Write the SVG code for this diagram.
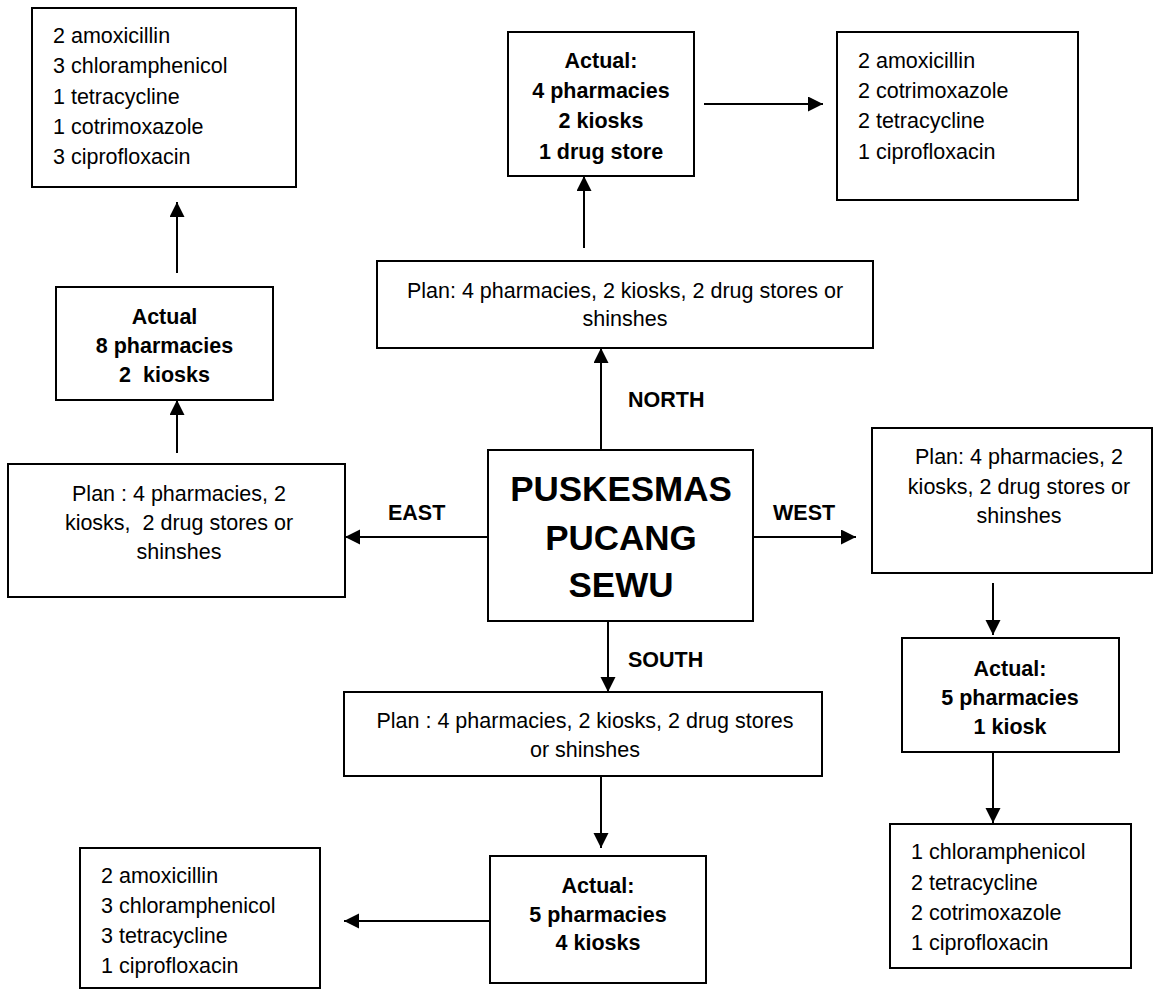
<svg xmlns="http://www.w3.org/2000/svg" width="1156" height="992" viewBox="0 0 1156 992">
<style>
.box{fill:#fff;stroke:#000;stroke-width:2}
.t{font-family:"Liberation Sans",Arial,sans-serif;font-size:21.5px;fill:#000}
.c{text-anchor:middle}
.b{font-weight:bold}
.title{font-family:"Liberation Sans",Arial,sans-serif;font-size:35px;font-weight:bold;text-anchor:middle;fill:#000}
.ln{stroke:#000;stroke-width:2;fill:none;marker-end:url(#ah)}
</style>
<defs>
<marker id="ah" markerUnits="userSpaceOnUse" markerWidth="16" markerHeight="16" refX="15" refY="7.5" orient="auto">
<path d="M0,0 L15,7.5 L0,15 z" fill="#000"/>
</marker>
</defs>
<rect width="1156" height="992" fill="#fff"/>
<g id="connectors">
<line class="ln" x1="601" y1="450" x2="601" y2="348"/>
<line class="ln" x1="584" y1="248" x2="584" y2="176"/>
<line class="ln" x1="704" y1="104" x2="823" y2="104"/>
<line class="ln" x1="488" y1="537" x2="345" y2="537"/>
<line class="ln" x1="177" y1="453" x2="177" y2="400"/>
<line class="ln" x1="177" y1="273" x2="177" y2="202"/>
<line class="ln" x1="753" y1="537" x2="856" y2="537"/>
<line class="ln" x1="993" y1="583" x2="993" y2="635"/>
<line class="ln" x1="993" y1="752" x2="993" y2="823"/>
<line class="ln" x1="608" y1="621" x2="608" y2="692"/>
<line class="ln" x1="601" y1="776" x2="601" y2="848"/>
<line class="ln" x1="490" y1="921" x2="344" y2="921"/>
<text class="t b" x="628" y="407">NORTH</text>
<text class="t b" x="388" y="520">EAST</text>
<text class="t b" x="773" y="520">WEST</text>
<text class="t b" x="628" y="667">SOUTH</text>
</g>
<g id="center">
<rect class="box" x="488" y="450" width="265" height="171"/>
<text class="title" x="621" y="501">PUSKESMAS</text>
<text class="title" x="621" y="550">PUCANG</text>
<text class="title" x="621" y="597">SEWU</text>
</g>
<g id="north-plan">
<rect class="box" x="377" y="261" width="496" height="87"/>
<text class="t c" x="625" y="298">Plan: 4 pharmacies, 2 kiosks, 2 drug stores or</text>
<text class="t c" x="625" y="326">shinshes</text>
</g>
<g id="north-actual">
<rect class="box" x="508" y="32" width="186" height="144"/>
<text class="t c b" x="601" y="68">Actual:</text>
<text class="t c b" x="601" y="98">4 pharmacies</text>
<text class="t c b" x="601" y="128">2 kiosks</text>
<text class="t c b" x="601" y="159">1 drug store</text>
</g>
<g id="north-drugs">
<rect class="box" x="837" y="32" width="241" height="168"/>
<text class="t" x="858" y="68">2 amoxicillin</text>
<text class="t" x="858" y="98">2 cotrimoxazole</text>
<text class="t" x="858" y="128">2 tetracycline</text>
<text class="t" x="858" y="159">1 ciprofloxacin</text>
</g>
<g id="east-plan">
<rect class="box" x="8" y="464" width="337" height="133"/>
<text class="t c" x="179" y="501">Plan : 4 pharmacies, 2</text>
<text class="t c" x="179" y="530" xml:space="preserve">kiosks,  2 drug stores or</text>
<text class="t c" x="179" y="559">shinshes</text>
</g>
<g id="east-actual">
<rect class="box" x="56" y="287" width="217" height="113"/>
<text class="t c b" x="164.5" y="324">Actual</text>
<text class="t c b" x="164.5" y="353">8 pharmacies</text>
<text class="t c b" x="164.5" y="382" xml:space="preserve">2  kiosks</text>
</g>
<g id="east-drugs">
<rect class="box" x="32" y="8" width="264" height="179"/>
<text class="t" x="53" y="43">2 amoxicillin</text>
<text class="t" x="53" y="73">3 chloramphenicol</text>
<text class="t" x="53" y="104">1 tetracycline</text>
<text class="t" x="53" y="134">1 cotrimoxazole</text>
<text class="t" x="53" y="164">3 ciprofloxacin</text>
</g>
<g id="west-plan">
<rect class="box" x="872" y="428" width="280" height="145"/>
<text class="t c" x="1019" y="464">Plan: 4 pharmacies, 2</text>
<text class="t c" x="1019" y="494">kiosks, 2 drug stores or</text>
<text class="t c" x="1019" y="523">shinshes</text>
</g>
<g id="west-actual">
<rect class="box" x="902" y="638" width="217" height="114"/>
<text class="t c b" x="1010" y="676">Actual:</text>
<text class="t c b" x="1010" y="705">5 pharmacies</text>
<text class="t c b" x="1010" y="734">1 kiosk</text>
</g>
<g id="west-drugs">
<rect class="box" x="890" y="824" width="241" height="144"/>
<text class="t" x="911" y="859">1 chloramphenicol</text>
<text class="t" x="911" y="890">2 tetracycline</text>
<text class="t" x="911" y="920">2 cotrimoxazole</text>
<text class="t" x="911" y="950">1 ciprofloxacin</text>
</g>
<g id="south-plan">
<rect class="box" x="344" y="692" width="478" height="84"/>
<text class="t c" x="585" y="728">Plan : 4 pharmacies, 2 kiosks, 2 drug stores</text>
<text class="t c" x="585" y="757">or shinshes</text>
</g>
<g id="south-actual">
<rect class="box" x="490" y="856" width="216" height="127"/>
<text class="t c b" x="598" y="893">Actual:</text>
<text class="t c b" x="598" y="922">5 pharmacies</text>
<text class="t c b" x="598" y="950">4 kiosks</text>
</g>
<g id="south-drugs">
<rect class="box" x="80" y="848" width="240" height="140"/>
<text class="t" x="101" y="883">2 amoxicillin</text>
<text class="t" x="101" y="913">3 chloramphenicol</text>
<text class="t" x="101" y="943">3 tetracycline</text>
<text class="t" x="101" y="973">1 ciprofloxacin</text>
</g>
</svg>
